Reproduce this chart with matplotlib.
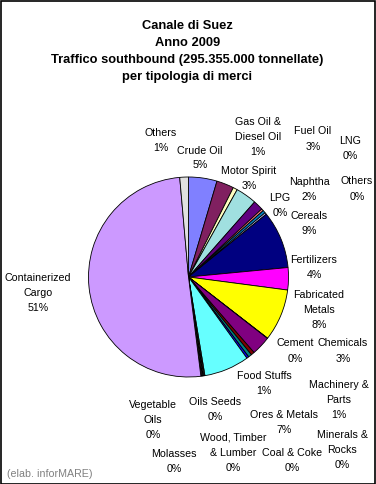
import matplotlib
matplotlib.use("Agg")
import matplotlib.pyplot as plt
from matplotlib.patches import Rectangle

# ---- data ----
categories = ["Crude Oil", "Fuel Oil", "Gas Oil &\nDiesel Oil", "Motor Spirit", "Naphtha",
              "LPG", "LNG", "Others", "Cereals", "Fertilizers", "Fabricated\nMetals",
              "Cement", "Chemicals", "Machinery &\nParts", "Food Stuffs", "Minerals &\nRocks",
              "Ores & Metals", "Coal & Coke", "Wood, Timber\n& Lumber", "Oils Seeds",
              "Molasses", "Vegetable\nOils", "Containerized\nCargo", "Others"]
shares = [4.6, 2.8, 0.7, 3.4, 1.6,
          0.35, 0.45, 0.3, 9.3, 3.6, 8.4,
          0.05, 3.1, 0.55, 0.55, 0.35,
          7.3, 0.15, 0.15, 0.1,
          0.1, 0.15, 50.6, 1.4]
colors = ["#8080FF", "#802060", "#FFFFC0", "#A0E0E0", "#600080",
          "#FF8080", "#0080C0", "#C0C0FF", "#000080", "#FF00FF", "#FFFF00",
          "#00FFFF", "#800080", "#800000", "#008080", "#0000FF",
          "#66FFFF", "#CCFFFF", "#CCFFCC", "#FFFF99",
          "#99CCFF", "#FF99CC", "#CC99FF", "#E0E0E0"]
title_lines = ["Canale di Suez", "Anno 2009",
               "Traffico southbound (295.355.000 tonnellate)", "per tipologia di merci"]
source = "(elab. inforMARE)"

# label anchor positions (pixels, centre of text block), same order as categories
label_pos = [(200, 158), (313, 139), (258, 137), (249, 178.5), (309, 189.5),
             (280, 205.5), (350, 149), (357, 189), (309, 223.5), (314, 267.5), (319, 310),
             (295, 351), (343, 351), (339, 400.5), (264, 383.5), (342, 450),
             (284, 423), (292, 461), (233, 453), (215, 409.5),
             (174, 461.5), (153, 420), (38, 293), (161, 140.8)]

W, H = 376, 485
FONT = ["Liberation Sans", "DejaVu Sans"]

fig = plt.figure(figsize=(W / 100, H / 100), dpi=100)
fig.patch.set_facecolor("white")

# pie axes: centre (188.5, 278) px, radius 100 px
cx, cy, r = 188.5, 278, 100
ax = fig.add_axes([(cx - r) / W, (H - cy - r) / H, 2 * r / W, 2 * r / H])
ax.pie(shares, colors=colors, startangle=90, counterclock=False, radius=1,
       wedgeprops=dict(edgecolor="black", linewidth=0.6))
ax.set_xlim(-1.0, 1.0)
ax.set_ylim(-1.0, 1.0)
ax.set_aspect("equal")
ax.axis("off")

total = sum(shares)

def px_text(x, y, s, **kw):
    fig.text(x / W, 1 - y / H, s, ha="center", va="center", family=FONT, **kw)

line_h = 15
for name, val, (x, y) in zip(categories, shares, label_pos):
    lines = name.split("\n") + ["%.0f%%" % (100 * val / total)]
    n = len(lines)
    for i, ln in enumerate(lines):
        yy = y + (i - (n - 1) / 2) * line_h
        px_text(x, yy, ln, fontsize=7.7, color="black")

title_y = [26, 43, 60, 77]
for ln, ty in zip(title_lines, title_y):
    px_text(187.5, ty, ln, fontsize=9.3, fontweight="bold", color="black")

fig.text(7 / W, 1 - 474 / H, source, ha="left", va="center", family=FONT,
         fontsize=7.7, color="#808080")

fig.add_artist(Rectangle((0.5 / W, 0.5 / H), 1 - 2 / W, 1 - 2 / H,
                         transform=fig.transFigure, fill=False,
                         edgecolor="black", linewidth=1.2))

fig.savefig("out.png", dpi=100, facecolor="white")
